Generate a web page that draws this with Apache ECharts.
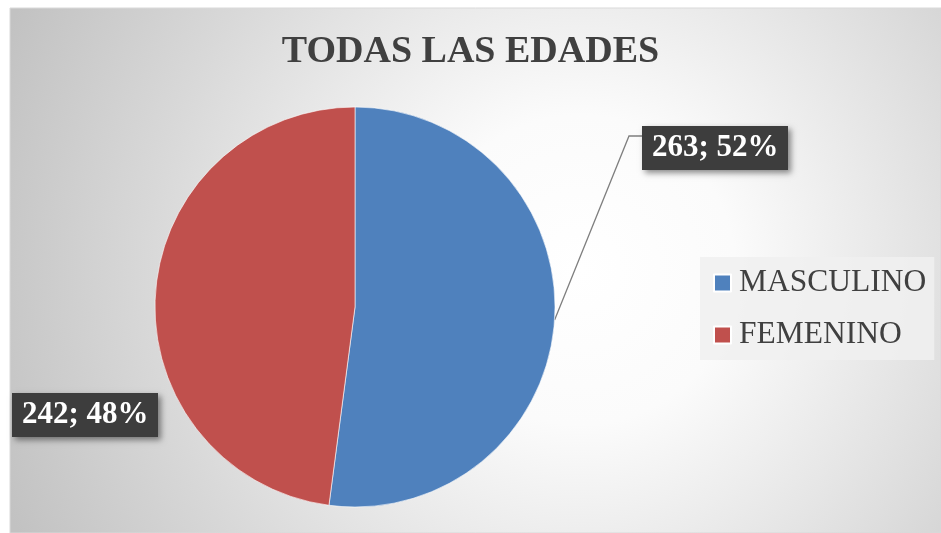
<!DOCTYPE html>
<html>
<head>
<meta charset="utf-8">
<script src="https://cdn.jsdelivr.net/npm/echarts@6/dist/echarts.min.js"></script>
<style>
html,body{margin:0;padding:0;background:#fff;}
#chart{width:941px;height:533px;}
</style>
</head>
<body>
<div id="chart"></div>
<script>
const titleText = 'TODAS LAS EDADES';
const categories = ['MASCULINO', 'FEMENINO'];
const values = [263, 242];
const colors = ['#4f81bd', '#c0504d'];

const chart = echarts.init(document.getElementById('chart'));
const total = values.reduce((a, b) => a + b, 0);

const option = {
  animation: false,
  graphic: [
    {
      type: 'rect', z: -10, silent: true,
      shape: { x: 10, y: 8, width: 931, height: 525 },
      style: {
        fill: {
          type: 'radial', global: true, x: 580, y: 270, r: 620,
          colorStops: [
            { offset: 0, color: '#ffffff' },
            { offset: 0.25, color: '#fbfbfb' },
            { offset: 0.7, color: '#d8d8d8' },
            { offset: 1, color: '#c2c2c2' }
          ]
        },
        stroke: '#d9d9d9', lineWidth: 1
      }
    }
  ],
  title: {
    text: titleText,
    left: 'center',
    top: 28,
    textStyle: {
      fontFamily: 'Liberation Serif',
      fontWeight: 'bold',
      fontSize: 38,
      color: '#404040'
    }
  },
  legend: {
    orient: 'vertical',
    left: 700,
    top: 257,
    padding: [10, 8, 9, 13],
    itemWidth: 17,
    itemHeight: 17,
    itemGap: 20,
    icon: 'rect',
    backgroundColor: 'rgba(240,240,240,0.85)',
    data: categories,
    textStyle: {
      fontFamily: 'Liberation Serif',
      fontSize: 31.5,
      color: '#404040',
      padding: [0, 0, 0, 3]
    }
  },
  series: [
    {
      type: 'pie',
      center: [355, 307],
      radius: 200,
      startAngle: 90,
      clockwise: true,
      data: categories.map((c, i) => ({ name: c, value: values[i], itemStyle: { color: colors[i] } })),
      itemStyle: { borderColor: '#ffffff', borderWidth: 0.6 },
      label: {
        show: true,
        overflow: 'none',
        width: 126,
        formatter: p => p.value + '; ' + Math.round(p.value / total * 100) + '%',
        fontFamily: 'Liberation Serif',
        fontWeight: 'bold',
        fontSize: 31,
        color: '#ffffff',
        backgroundColor: '#3d3d3d',
        padding: [7, 10, 6, 10],
        shadowColor: 'rgba(0,0,0,0.45)',
        shadowBlur: 6,
        shadowOffsetX: 3,
        shadowOffsetY: 3
      },
      labelLine: {
        show: true,
        lineStyle: { color: '#7f7f7f', width: 1.3 }
      },
      labelLayout: function (params) {
        if (params.dataIndex === 0) {
          const p0 = params.labelLinePoints ? params.labelLinePoints[0] : [556, 320];
          return {
            x: 642, y: 148, align: 'left', verticalAlign: 'middle',
            labelLinePoints: [p0, [629, 136], [642, 136]]
          };
        }
        return {
          x: 12, y: 415, align: 'left', verticalAlign: 'middle',
          labelLinePoints: [[12, 415], [12, 415], [12, 415]]
        };
      }
    }
  ]
};
chart.setOption(option);
</script>
</body>
</html>
